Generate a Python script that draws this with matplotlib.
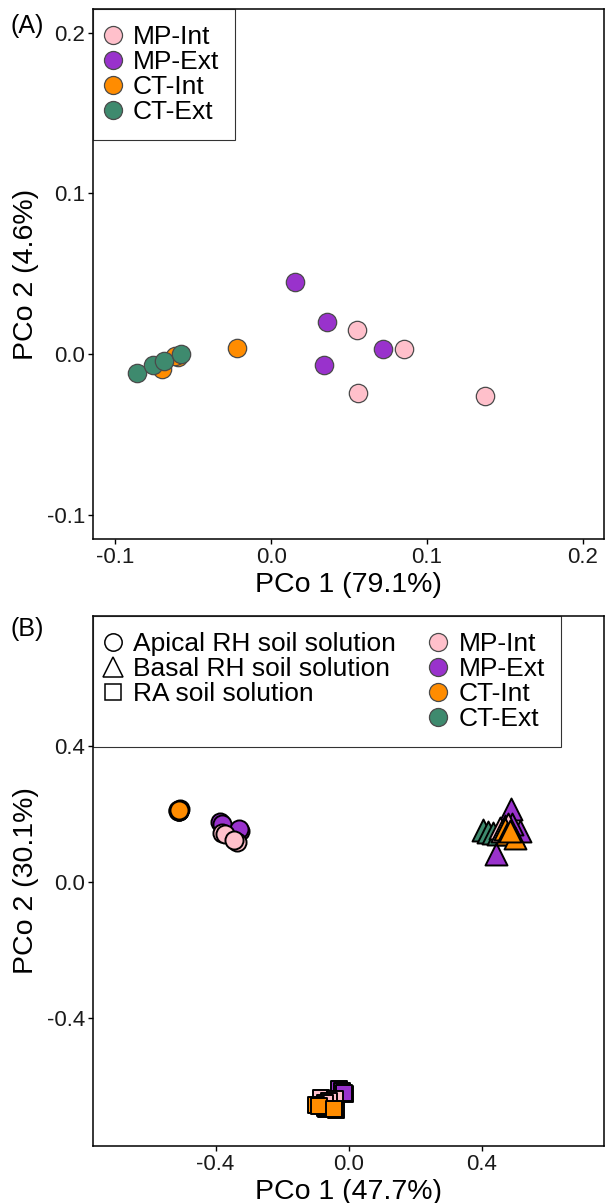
import matplotlib
matplotlib.use("Agg")
import matplotlib.pyplot as plt
from matplotlib.lines import Line2D
from matplotlib.ticker import FormatStrFormatter

plt.rcParams['font.family'] = ['Liberation Sans', 'DejaVu Sans']
plt.rcParams['axes.unicode_minus'] = False

groups = ["MP-Int", "MP-Ext", "CT-Int", "CT-Ext"]
colors = {"MP-Int": "#FFC0CB", "MP-Ext": "#9932CC", "CT-Int": "#FF8C00", "CT-Ext": "#3E8A6E"}

# panel A: PCoA, 79.1% / 4.6%
a_x = {
    "MP-Int": [0.055, 0.085, 0.056, 0.137],
    "MP-Ext": [0.015, 0.036, 0.072, 0.034],
    "CT-Int": [-0.022, -0.060, -0.070, -0.062],
    "CT-Ext": [-0.086, -0.076, -0.069, -0.058],
}
a_y = {
    "MP-Int": [0.015, 0.003, -0.024, -0.026],
    "MP-Ext": [0.045, 0.020, 0.003, -0.007],
    "CT-Int": [0.004, -0.002, -0.009, -0.001],
    "CT-Ext": [-0.012, -0.007, -0.004, 0.000],
}

# panel B: PCoA, 47.7% / 30.1%, three soil solutions
zones = ["Apical RH soil solution", "Basal RH soil solution", "RA soil solution"]
zone_marker = {"Apical RH soil solution": "o", "Basal RH soil solution": "^", "RA soil solution": "s"}
b_x = {
    "Apical RH soil solution": {
        "MP-Int": [-0.381, -0.336, -0.370, -0.345],
        "MP-Ext": [-0.386, -0.326, -0.380, -0.330],
        "CT-Int": [-0.511, -0.508, -0.513, -0.510],
        "CT-Ext": [-0.512, -0.510, -0.511, -0.509],
    },
    "Basal RH soil solution": {
        "MP-Int": [0.455, 0.470, 0.460, 0.480],
        "MP-Ext": [0.487, 0.442, 0.515, 0.490],
        "CT-Int": [0.470, 0.475, 0.500, 0.485],
        "CT-Ext": [0.403, 0.419, 0.434, 0.449],
    },
    "RA soil solution": {
        "MP-Int": [-0.084, -0.041, -0.060, -0.070],
        "MP-Ext": [-0.028, -0.011, -0.020, -0.015],
        "CT-Int": [-0.098, -0.038, -0.090, -0.045],
        "CT-Ext": [-0.071, -0.075, -0.068, -0.065],
    },
}
b_y = {
    "Apical RH soil solution": {
        "MP-Int": [0.144, 0.117, 0.140, 0.125],
        "MP-Ext": [0.176, 0.151, 0.170, 0.155],
        "CT-Int": [0.210, 0.215, 0.208, 0.212],
        "CT-Ext": [0.211, 0.209, 0.213, 0.210],
    },
    "Basal RH soil solution": {
        "MP-Int": [0.160, 0.165, 0.150, 0.170],
        "MP-Ext": [0.216, 0.083, 0.150, 0.170],
        "CT-Int": [0.155, 0.140, 0.130, 0.150],
        "CT-Ext": [0.152, 0.148, 0.145, 0.142],
    },
    "RA soil solution": {
        "MP-Int": [-0.636, -0.639, -0.645, -0.650],
        "MP-Ext": [-0.610, -0.623, -0.615, -0.620],
        "CT-Int": [-0.657, -0.672, -0.660, -0.668],
        "CT-Ext": [-0.664, -0.660, -0.668, -0.665],
    },
}
b_order = ["CT-Ext", "MP-Ext", "MP-Int", "CT-Int"]
b_size = {"o": 170, "^": 250, "s": 125}

fig = plt.figure(figsize=(6.05, 12.03), dpi=100)
ax1 = fig.add_axes([93 / 605, 1 - 539 / 1203, 511 / 605, 530 / 1203])
ax2 = fig.add_axes([93 / 605, 1 - 1146 / 1203, 511 / 605, 530 / 1203])


def style(ax, ticks):
    ax.set_xticks(ticks)
    ax.set_yticks(ticks)
    ax.xaxis.set_major_formatter(FormatStrFormatter('%.1f'))
    ax.yaxis.set_major_formatter(FormatStrFormatter('%.1f'))
    ax.tick_params(length=3.5, width=1, labelsize=16, labelcolor='#1a1a1a', pad=2)
    for s in ax.spines.values():
        s.set_linewidth(1.1)


legend_kw = dict(loc='upper left', fontsize=19, borderaxespad=0, frameon=True, fancybox=False,
                 handlelength=0.32, handletextpad=0.6, borderpad=0.6, labelspacing=0.04)

# ---- panel A
for g in groups:
    ax1.scatter(a_x[g], a_y[g], s=175, c=colors[g], edgecolors='#4a4a4a', linewidths=0.9, zorder=3)
ax1.set_xlim(-0.1143, 0.2135)
ax1.set_ylim(-0.115, 0.2147)
style(ax1, [-0.1, 0.0, 0.1, 0.2])
ax1.set_xlabel("PCo 1 (79.1%)", fontsize=20.5, labelpad=3)
ax1.set_ylabel("PCo 2 (4.6%)", fontsize=20.5, labelpad=6)

h1 = [Line2D([], [], ls='', marker='o', ms=13, mfc=colors[g], mec='#4a4a4a', mew=0.9) for g in groups]
leg1 = ax1.legend(h1, groups, **legend_kw)
leg1.get_frame().set_edgecolor('black')
leg1.get_frame().set_linewidth(0.8)
fig.text(10 / 605, 1 - 26 / 1203, "(A)", fontsize=18, va='center', ha='left')

# ---- panel B
for z in zones:
    for g in b_order:
        m = zone_marker[z]
        ax2.scatter(b_x[z][g], b_y[z][g], s=b_size[m], marker=m, c=colors[g],
                    edgecolors='black', linewidths=1.4, zorder=3)
ax2.set_xlim(-0.768, 0.767)
ax2.set_ylim(-0.777, 0.783)
style(ax2, [-0.4, 0.0, 0.4])
ax2.set_xlabel("PCo 1 (47.7%)", fontsize=20.5, labelpad=3)
ax2.set_ylabel("PCo 2 (30.1%)", fontsize=20.5, labelpad=6)

h2 = [Line2D([], [], ls='', marker='o', ms=12.5, mfc='none', mec='black', mew=1.1),
      Line2D([], [], ls='', marker='^', ms=14.5, mfc='none', mec='black', mew=1.1),
      Line2D([], [], ls='', marker='s', ms=11, mfc='none', mec='black', mew=1.1),
      Line2D([], [], ls='', marker='')]
h2 += [Line2D([], [], ls='', marker='o', ms=13, mfc=colors[g], mec='#4a4a4a', mew=0.9) for g in groups]
labels2 = zones + [""] + groups
leg2 = ax2.legend(h2, labels2, ncol=2, columnspacing=1.45, **legend_kw)
leg2.get_frame().set_edgecolor('black')
leg2.get_frame().set_linewidth(0.8)
fig.text(10 / 605, 1 - 629 / 1203, "(B)", fontsize=18, va='center', ha='left')

fig.savefig("out.png", dpi=100)
